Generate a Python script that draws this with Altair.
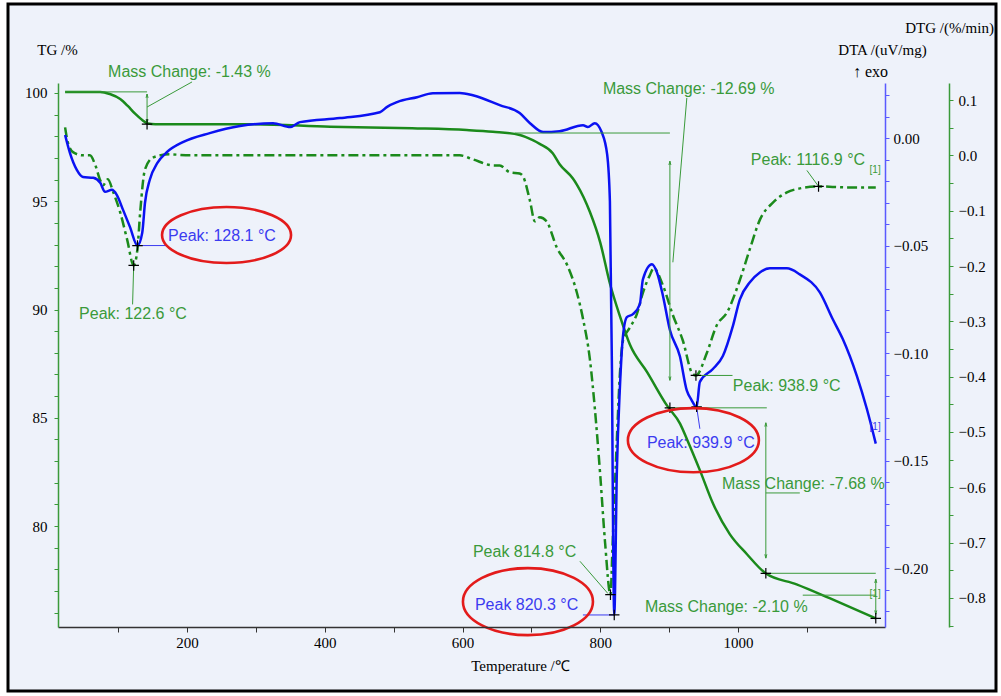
import altair as alt
import pandas as pd

# ---------------- scales / layout ----------------
W, H = 827, 544
X_DOM = [12.7, 1213.4]
TG_DOM = [75.34, 100.46]
DTA_DOM = [-0.2274, 0.0256]
DTG_DOM = [-0.8525, 0.1308]

GREEN = "#1B8A1B"
ANN_GREEN = "#3A9A3A"
BLUE = "#0B12F2"
ANN_BLUE = "#3B3BF0"
RED = "#E31B1B"
AX_GREEN = "#3A9A3A"
AX_BLUE = "#5A5AFF"
BG = "#EEF2FA"
SERIF = "Liberation Serif"
SANS = "Liberation Sans"

# ---------------- data ----------------
TG_T = [23, 74, 88, 103, 114, 125, 135, 143, 154, 292, 408, 527, 606, 644, 683, 702, 712,
        731, 741, 760, 766, 785, 800, 814, 829, 843, 868, 897, 916, 926, 945, 964, 988,
        1013, 1040, 1085, 1133, 1200]
TG_V = [100.05, 100.05, 99.95, 99.72, 99.40, 99.03, 98.75, 98.59, 98.56, 98.56, 98.44, 98.37,
        98.29, 98.21, 98.06, 97.82, 97.65, 97.22, 96.71, 96.06, 95.77, 94.50, 93.09, 91.20,
        89.65, 88.38, 87.11, 85.56, 84.72, 84.00, 82.55, 81.02, 79.63, 78.70, 77.82, 77.31,
        76.67, 75.74]

DTA_T = [23, 30, 40, 49, 64, 74, 81, 91, 98, 107, 117, 128.1, 135, 139, 146, 157, 171, 194,
         233, 277, 325, 350, 364, 422, 480, 490, 505, 534, 557, 596, 615, 654, 683, 698, 717,
         741, 775, 782, 792, 802, 810, 814, 817, 818.3, 820.3, 824.1, 828.5, 832.8, 838.6,
         847.4, 857.5, 861.9, 875, 882.2, 890.9, 901.1, 915.6, 925.7, 932, 939.9, 944.6,
         963.5, 978, 992.5, 1002.7, 1017.2, 1031.7, 1046.2, 1070.9, 1089.7, 1118.8, 1137.6,
         1152.1, 1172.5, 1187, 1200]
DTA_V = [0.0014, -0.0069, -0.0148, -0.0181, -0.0185, -0.0208, -0.0250, -0.0241, -0.0264,
         -0.0333, -0.0412, -0.0500, -0.0440, -0.0301, -0.0194, -0.0116, -0.0065, -0.0019,
         0.0023, 0.0056, 0.0069, 0.0051, 0.0074, 0.0093, 0.0120, 0.0144, 0.0167, 0.0190,
         0.0208, 0.0210, 0.0199, 0.0153, 0.0116, 0.0069, 0.0028, 0.0032, 0.0060, 0.0051,
         0.0069, 0.0028, -0.0076, -0.0295, -0.1081, -0.1707, -0.2218, -0.1551, -0.1162,
         -0.0927, -0.0833, -0.0819, -0.0772, -0.0657, -0.0587, -0.0624, -0.0732, -0.0893,
         -0.1015, -0.1175, -0.1215, -0.1250, -0.1134, -0.1074, -0.1014, -0.0875, -0.0750,
         -0.0671, -0.0625, -0.0606, -0.0606, -0.0634, -0.0718, -0.0843, -0.0935, -0.1106,
         -0.1259, -0.1421]

DTG_T = [23, 27, 35, 49, 59, 67, 74, 78, 85, 93, 103, 113, 122.6, 128, 132, 139, 151, 175,
         204, 596, 615, 644, 654, 669, 683, 688, 698, 705, 712, 722, 737, 752, 766, 775, 785,
         792, 800, 807, 814.8, 818, 824, 828.5, 833, 843, 853, 862, 872, 877.5, 891, 905,
         920, 934, 938.9, 955, 969, 984, 1003, 1017, 1032, 1051, 1071, 1090, 1116.9, 1158,
         1200]
DTG_V = [0.0506, 0.0235, 0.0054, 0.0, 0.0, -0.0181, -0.0452, -0.0542, -0.0434, -0.0669,
         -0.1031, -0.1519, -0.1989, -0.1700, -0.1031, -0.0253, -0.0036, 0.0018, 0.0, 0.0,
         -0.0072, -0.0181, -0.0183, -0.0307, -0.0329, -0.0383, -0.0825, -0.1192, -0.1119,
         -0.1192, -0.1669, -0.1984, -0.2479, -0.2957, -0.3693, -0.4557, -0.5788, -0.7002,
         -0.7940, -0.7002, -0.5163, -0.3951, -0.3351, -0.3112, -0.2873, -0.2479, -0.2166,
         -0.2038, -0.2351, -0.2873, -0.3351, -0.3951, -0.3978, -0.3562, -0.3074, -0.2839,
         -0.2242, -0.1700, -0.1157, -0.0850, -0.0669, -0.0597, -0.0561, -0.0579, -0.0579]

# annotation texts  (label, T, value)
TG_TEXT = [("Mass Change: -1.43 %", 85.4, 100.97),
           ("Mass Change: -12.69 %", 803.8, 100.18),
           ("Mass Change: -7.68 %", 976.6, 81.94),
           ("Mass Change: -2.10 %", 864.8, 76.26)]
DTA_TEXT = [("Peak: 128.1 °C", 172.5, -0.0456),
            ("Peak: 939.9 °C", 867.7, -0.1419),
            ("Peak 820.3 °C", 618.0, -0.2172)]
DTG_TEXT = [("Peak: 122.6 °C", 43.3, -0.2862),
            ("Peak: 1116.9 °C", 1018.6, -0.0091),
            ("Peak: 938.9 °C", 992.5, -0.4167),
            ("Peak 814.8 °C", 615.1, -0.7174)]
END_TG = [(1191, 76.85)]
END_DTA = [(1191, -0.1344)]
END_DTG = [(1191, -0.0272)]

# peak / step markers
TG_CROSS = [(142.0, 98.56), (901.1, 85.46), (1040.4, 77.82), (1200, 75.74)]
DTA_CROSS = [(128.1, -0.0500), (820.3, -0.2218), (939.9, -0.1250)]
DTG_CROSS = [(122.6, -0.1989), (814.8, -0.7940), (938.9, -0.3978), (1116.9, -0.0561)]

# reference / leader segments (T1, V1, T2, V2)
TG_SEG = [(23, 100.05, 142.0, 100.05), (676, 98.15, 901.1, 98.15),
          (901.1, 85.46, 1041.8, 85.46), (1040.4, 77.82, 1200, 77.82),
          (1094, 76.81, 1200, 76.81), (142.0, 99.35, 207.3, 100.51),
          (925.7, 99.77, 905.4, 92.18), (1040.4, 81.53, 1089.7, 81.53)]
DTA_SEG = [(128.1, -0.0500, 171.0, -0.0500), (939.9, -0.1250, 944.6, -0.1352),
           (774.8, -0.2218, 820.3, -0.2218)]
DTG_SEG = [(122.6, -0.1989, 121.0, -0.2694), (938.9, -0.3978, 992.0, -0.3978),
           (770.5, -0.7337, 811.1, -0.7920), (1100.0, -0.0272, 1116.9, -0.0561)]

# mass-change double arrows (T, top, bottom)
ARROWS = [(142.0, 99.95, 98.61), (901.1, 96.85, 86.73), (1040.4, 84.77, 78.52),
          (1200, 77.55, 75.93)]

# red ellipses in DTA units (T centre, value centre, half width px, height ratio)
ELLIPSES = [(257.4, -0.0451, 64.5, 0.434), (695.0, -0.2156, 65.0, 0.515),
            (935.2, -0.1405, 65.5, 0.489)]

# ---------------- axes ----------------
x_axis = alt.Axis(values=list(range(100, 1101, 100)), format="d",
                  labelExpr="datum.value % 200 === 0 ? datum.label : ''",
                  title="Temperature /℃", titleFont=SERIF, titleFontSize=15,
                  titleFontWeight="normal", titleColor="black", titleX=462, titleY=38,
                  titleAlign="center", titleBaseline="middle",
                  labelFont=SERIF, labelFontSize=15, labelColor="black", labelPadding=3,
                  tickSize=5, tickColor="#333333", domainColor="#333333", domainWidth=1.5,
                  grid=False, labelOverlap=False, labelFlush=False, zindex=1)

tg_axis = alt.Axis(orient="left", values=list(range(76, 101)), format="d",
                   labelExpr="datum.value % 5 === 0 ? datum.label : ''",
                   title="TG /%", titleAngle=0, titleX=-1, titleY=-34, titleAlign="center",
                   titleBaseline="middle", titleFont=SERIF, titleFontSize=15,
                   titleFontWeight="normal", titleColor="black",
                   labelFont=SERIF, labelFontSize=15, labelColor="black", labelPadding=7,
                   tickSize=4, tickColor=AX_GREEN, domainColor=AX_GREEN, domainWidth=1.5,
                   grid=False, labelOverlap=False, labelFlush=False, zindex=1)

dta_axis = alt.Axis(orient="right", values=[i / 100 for i in range(-22, 3)], format=".2f",
                    labelExpr="abs(round(datum.value * 100)) % 5 === 0 ? datum.label : ''",
                    title="DTA /(uV/mg)", titleAngle=0, titleX=-3, titleY=-34,
                    titleAlign="center", titleBaseline="middle", titleFont=SERIF,
                    titleFontSize=15, titleFontWeight="normal", titleColor="black",
                    labelFont=SERIF, labelFontSize=15, labelColor="black", labelPadding=4,
                    tickSize=4, tickColor=AX_BLUE, domainColor=AX_BLUE, domainWidth=1.5,
                    grid=False, labelOverlap=False, labelFlush=False, zindex=1)

dtg_axis = alt.Axis(orient="right", offset=64, values=[i / 100 for i in range(-85, 11, 5)],
                    format=".1f",
                    labelExpr="abs(round(datum.value * 100)) % 10 === 0 ? datum.label : ''",
                    title="DTG /(%/min)", titleAngle=0, titleX=0, titleY=-56,
                    titleAlign="center", titleBaseline="middle", titleFont=SERIF,
                    titleFontSize=15, titleFontWeight="normal", titleColor="black",
                    labelFont=SERIF, labelFontSize=15, labelColor="black", labelPadding=5,
                    tickSize=4, tickColor=AX_GREEN, domainColor=AX_GREEN, domainWidth=1.5,
                    grid=False, labelOverlap=False, labelFlush=False, zindex=1)

# ---------------- helpers ----------------
xs = alt.Scale(domain=X_DOM, nice=False, zero=False)


def ysc(dom):
    return alt.Scale(domain=dom, nice=False, zero=False)


def XE(field="T"):
    # the shared x axis is declared identically everywhere so that it merges cleanly
    return alt.X(f"{field}:Q", scale=xs, axis=x_axis)


def YE(field, dom):
    return alt.Y(f"{field}:Q", scale=ysc(dom), axis=None)


CROSS = "M -1 0 L 1 0 M 0 -1 L 0 1"
UP = "M -0.45 1.7 L 0 0 L 0.45 1.7"
DOWN = "M -0.45 -1.7 L 0 0 L 0.45 -1.7"
ANN_SIZE = 16


def seg_chart(rows, dom, color):
    df = pd.DataFrame(rows, columns=["T", "V", "T2", "V2"])
    return alt.Chart(df).mark_rule(color=color, strokeWidth=1).encode(
        x=XE(), x2="T2:Q", y=YE("V", dom), y2="V2:Q")


def cross_chart(rows, dom):
    df = pd.DataFrame(rows, columns=["T", "V"])
    return alt.Chart(df).mark_point(shape=CROSS, size=110, filled=False, color="black",
                                    strokeWidth=1.2, opacity=1).encode(
        x=XE(), y=YE("V", dom))


def text_chart(rows, dom, color, size=ANN_SIZE):
    df = pd.DataFrame(rows, columns=["label", "T", "V"])
    return alt.Chart(df).mark_text(align="left", baseline="middle", font=SANS,
                                   fontSize=size, color=color).encode(
        x=XE(), y=YE("V", dom), text="label:N")


def end_chart(rows, dom, color):
    df = pd.DataFrame(rows, columns=["T", "V"]).assign(label="[1]")
    return alt.Chart(df).mark_text(align="left", baseline="middle", font=SANS, fontSize=10,
                                   color=color).encode(
        x=XE(), y=YE("V", dom), text="label:N")


# ---------------- frame ----------------
one = pd.DataFrame({"a": [0]})
outer = alt.Chart(one).mark_rect(fill=None, filled=False, stroke="white", strokeWidth=8).encode(
    x=alt.value(-54), x2=alt.value(942), y=alt.value(-83), y2=alt.value(613))
frame = alt.Chart(one).mark_rect(filled=False, fill=None, stroke="black", strokeWidth=3).encode(
    x=alt.value(-50), x2=alt.value(938), y=alt.value(-79), y2=alt.value(608))
exo = alt.Chart(one).mark_text(align="left", baseline="middle", font=SERIF, fontSize=16,
                               color="black").encode(
    x=alt.value(795), y=alt.value(-11), text=alt.value("↑ exo"))

# ---------------- main curves ----------------
tg_line = alt.Chart(pd.DataFrame({"T": TG_T, "V": TG_V})).mark_line(
    color=GREEN, strokeWidth=2.5, interpolate="monotone").encode(
    x=XE(), y=alt.Y("V:Q", scale=ysc(TG_DOM), axis=tg_axis))

dta_line = alt.Chart(pd.DataFrame({"T": DTA_T, "V": DTA_V})).mark_line(
    color=BLUE, strokeWidth=2.5, interpolate="monotone").encode(
    x=XE(), y=alt.Y("V:Q", scale=ysc(DTA_DOM), axis=dta_axis))

dtg_line = alt.Chart(pd.DataFrame({"T": DTG_T, "V": DTG_V})).mark_line(
    color=GREEN, strokeWidth=2.5, strokeDash=[10, 4, 3, 4], interpolate="monotone").encode(
    x=XE(), y=alt.Y("V:Q", scale=ysc(DTG_DOM), axis=dtg_axis))

# ---------------- annotations ----------------
arr_df = pd.DataFrame(ARROWS, columns=["T", "top", "bot"])
arr_rule = alt.Chart(arr_df).mark_rule(color=ANN_GREEN, strokeWidth=1).encode(
    x=XE(), y=YE("top", TG_DOM), y2="bot:Q")
arr_up = alt.Chart(arr_df).mark_point(shape=UP, size=20, filled=False, color=ANN_GREEN,
                                      strokeWidth=1, opacity=1).encode(
    x=XE(), y=YE("top", TG_DOM))
arr_dn = alt.Chart(arr_df).mark_point(shape=DOWN, size=20, filled=False, color=ANN_GREEN,
                                      strokeWidth=1, opacity=1).encode(
    x=XE(), y=YE("bot", TG_DOM))

ell_charts = []
for (t, v, rx, ratio) in ELLIPSES:
    path = f"M -1 0 A 1 {ratio} 0 1 0 1 0 A 1 {ratio} 0 1 0 -1 0 Z"
    ell_charts.append(
        alt.Chart(pd.DataFrame({"T": [t], "V": [v]})).mark_point(
            shape=path, size=(2 * rx) ** 2, filled=False, color=RED, strokeWidth=2.6,
            opacity=1).encode(x=XE(), y=YE("V", DTA_DOM)))

layers = [
    outer, frame,
    tg_line, dtg_line, dta_line,
    seg_chart(TG_SEG, TG_DOM, ANN_GREEN), arr_rule, arr_up, arr_dn,
    cross_chart(TG_CROSS, TG_DOM), text_chart(TG_TEXT, TG_DOM, ANN_GREEN),
    end_chart(END_TG, TG_DOM, ANN_GREEN),
    seg_chart(DTG_SEG, DTG_DOM, ANN_GREEN), cross_chart(DTG_CROSS, DTG_DOM),
    text_chart(DTG_TEXT, DTG_DOM, ANN_GREEN), end_chart(END_DTG, DTG_DOM, ANN_GREEN),
    seg_chart(DTA_SEG, DTA_DOM, ANN_BLUE), cross_chart(DTA_CROSS, DTA_DOM),
    text_chart(DTA_TEXT, DTA_DOM, ANN_BLUE), end_chart(END_DTA, DTA_DOM, ANN_BLUE),
    *ell_charts, exo,
]

chart = alt.layer(*layers).resolve_scale(y="independent").properties(
    width=W, height=H, autosize="none",
    padding={"left": 58, "top": 83, "right": 116, "bottom": 69},
    background=BG).configure_view(stroke=None)

chart.save("out.html", embed_options={"renderer": "svg", "actions": False})
